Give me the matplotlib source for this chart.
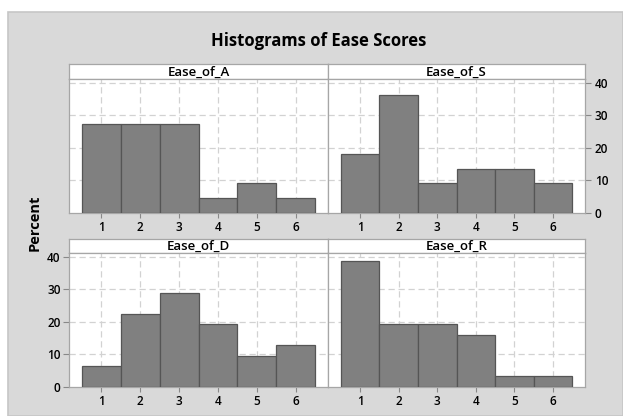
import matplotlib

matplotlib.use("Agg")

import matplotlib.pyplot as plt
from matplotlib.patches import Rectangle


W, H = 623, 416

scores = [1, 2, 3, 4, 5, 6]
pct_ticks = [0, 10, 20, 30, 40]

ease_of_a = [27.27, 27.27, 27.27, 4.55, 9.09, 4.55]
ease_of_s = [18.18, 36.36, 9.09, 13.64, 13.64, 9.09]
ease_of_d = [6.45, 22.58, 29.03, 19.35, 9.68, 12.90]
ease_of_r = [38.71, 19.35, 19.35, 16.13, 3.23, 3.23]

BG = "#d9d9d9"
FRAME = "#a6a6a6"
GRID = "#d2d2d2"
BAR = "#808080"
BAR_EDGE = "#555555"

plt.rcParams["font.family"] = ["Open Sans", "DejaVu Sans"]


def box(x0, y0, x1, y1):
    # pixel box (top-left origin) -> figure fraction rect
    return [x0 / W, 1 - y1 / H, (x1 - x0) / W, (y1 - y0) / H]


def draw_panel(fig, name, values, x0, x1, y_top, y_strip, y_bottom, yside):
    strip = fig.add_axes(box(x0, y_top, x1, y_strip))
    strip.set_facecolor("white")
    strip.set_xticks([])
    strip.set_yticks([])
    for sp in strip.spines.values():
        sp.set_color(FRAME)
        sp.set_linewidth(0.9)
    strip.text(0.5, 0.47, name, ha="center", va="center", fontsize=9.5,
               fontweight="semibold", transform=strip.transAxes)

    ax = fig.add_axes(box(x0, y_strip, x1, y_bottom))
    ax.set_facecolor("white")
    ax.bar(scores, values, width=1.0, color=BAR, edgecolor=BAR_EDGE,
           linewidth=0.9, zorder=3)
    ax.set_xlim(0.17, 6.83)
    ax.set_ylim(0, 41.2)
    ax.set_xticks(scores)
    ax.set_yticks(pct_ticks)
    for x in scores:
        ax.axvline(x, color=GRID, linestyle=(0, (5, 3)), linewidth=0.9, zorder=1)
    for y in pct_ticks[1:]:
        ax.axhline(y, color=GRID, linestyle=(0, (5, 3)), linewidth=0.9, zorder=1)
    for sp in ax.spines.values():
        sp.set_color(FRAME)
        sp.set_linewidth(0.9)
    ax.tick_params(axis="x", length=3.5, width=0.8, color="#888888",
                   labelsize=8.5, pad=2)
    for lab in ax.get_xticklabels():
        lab.set_fontweight("semibold")
    if yside == "left":
        ax.tick_params(axis="y", left=True, right=False, labelleft=True,
                       labelright=False, length=4, width=0.8, color="#888888",
                       labelsize=8.5, pad=2)
    elif yside == "right":
        ax.yaxis.tick_right()
        ax.tick_params(axis="y", left=False, right=True, labelleft=False,
                       labelright=True, length=4, width=0.8, color="#888888",
                       labelsize=8.5, pad=3)
    else:
        ax.tick_params(axis="y", left=False, right=False, labelleft=False,
                       labelright=False)
    for lab in ax.get_yticklabels():
        lab.set_fontweight("semibold")
    return ax


fig = plt.figure(figsize=(W / 100, H / 100), dpi=100)
fig.patch.set_facecolor("white")
fig.patches.append(Rectangle((8 / W, 0), 1 - 8 / W, 1 - 12 / H,
                             transform=fig.transFigure, facecolor=BG,
                             edgecolor="#c6c6c6", linewidth=1.2, zorder=-5))

draw_panel(fig, "Ease_of_A", ease_of_a, 69, 328, 64, 79, 213, None)
draw_panel(fig, "Ease_of_S", ease_of_s, 328, 585, 64, 79, 213, "right")
draw_panel(fig, "Ease_of_D", ease_of_d, 69, 328, 239, 253, 387, "left")
draw_panel(fig, "Ease_of_R", ease_of_r, 328, 585, 239, 253, 387, None)

fig.text(319 / W, 1 - 41 / H, "Histograms of Ease Scores", ha="center",
         va="center", fontsize=12, fontweight="bold")
fig.text(35 / W, 1 - 223 / H, "Percent", ha="center", va="center",
         rotation=90, fontsize=10.5, fontweight="bold")

fig.savefig("out.png", dpi=100)
